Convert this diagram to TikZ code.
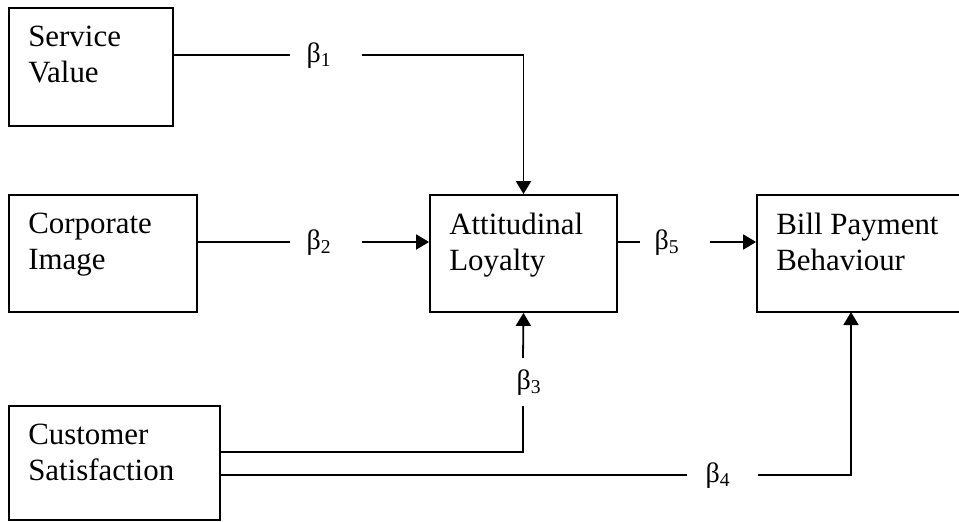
\documentclass[tikz,border=0pt]{standalone}
\usepackage{fontspec}
\setmainfont{Liberation Serif}
\usetikzlibrary{arrows.meta}
\begin{document}
\begin{tikzpicture}[x=1pt,y=-1pt,
  box/.style={draw,line width=1.8pt,rectangle,inner sep=0pt},
  boxtext/.style={anchor=north west,inner sep=0pt,align=left,font=\fontsize{30.9}{36}\selectfont},
  coef/.style={inner sep=0pt,font=\fontsize{28}{32}\selectfont,text height=18pt,text depth=3pt},
  conn/.style={line width=1.8pt},
  arr/.style={conn,-{Triangle[length=13pt,width=15pt]}}]
\useasboundingbox (0,0) rectangle (959,522);
\clip (0,0) rectangle (959,522);
% boxes
\node[box,minimum width=164pt,minimum height=118pt] (sv) at (91,67) {};
\node[box,minimum width=188pt,minimum height=117pt] (ci) at (103,253.5) {};
\node[box,minimum width=211pt,minimum height=114pt] (cs) at (114.5,463) {};
\node[box,minimum width=187pt,minimum height=117pt] (al) at (523.5,253.5) {};
\node[box,minimum width=218pt,minimum height=117pt] (bp) at (866,253.5) {};
% box texts
\node[boxtext] (svt) at ([shift={(20,19)}]sv.north west) {Service\\Value};
\node[boxtext] (cit) at ([shift={(20,19)}]ci.north west) {Corporate\\Image};
\node[boxtext] (cst) at ([shift={(20,19)}]cs.north west) {Customer\\Satisfaction};
\node[boxtext] (alt) at ([shift={(20,19)}]al.north west) {Attitudinal\\Loyalty};
\node[boxtext] (bpt) at ([shift={(20,19)}]bp.north west) {Bill Payment\\Behaviour};
% coefficient labels (gaps in the connectors)
\node[coef,minimum width=72pt] (b1) at (326,55) {β\textsubscript{1}\hspace*{14pt}};
\node[coef,minimum width=72pt] (b2) at (326,242) {β\textsubscript{2}\hspace*{14pt}};
\node[coef,minimum width=70pt] (b5) at (675,242) {β\textsubscript{5}\hspace*{16pt}};
\node[coef,minimum height=48pt] (b3) at (523,382) {\hspace*{12pt}β\textsubscript{3}};
\node[coef,minimum width=71pt] (b4) at (722.5,475) {β\textsubscript{4}\hspace*{9pt}};
\coordinate (c3) at (523,452);
\coordinate (c4) at (851,312);
% connectors
\draw[conn] (sv.east |- b1) -- (b1.west);
\draw[arr] (b1.east) -| (al.north);
\draw[conn] (ci.east |- b2) -- (b2.west);
\draw[arr] (b2.east) -- (al.west |- b2);
\draw[conn] (al.east |- b5) -- (b5.west);
\draw[arr] (b5.east) -- (bp.west |- b5);
\draw[conn] (cs.east |- c3) -- (c3) -- (b3.south);
\draw[arr] (b3.north) -- (al.south);
\draw[conn] (cs.east |- b4) -- (b4.west);
\draw[arr] (b4.east) -| (c4);
\end{tikzpicture}
\end{document}
